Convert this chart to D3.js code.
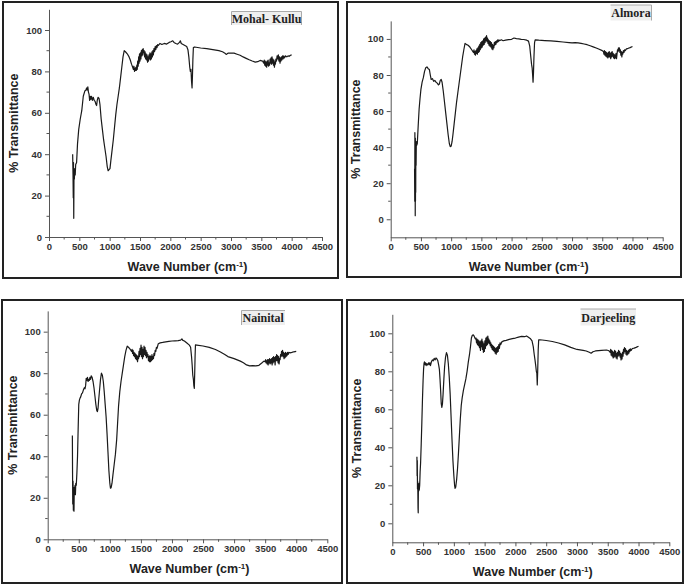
<!DOCTYPE html>
<html>
<head>
<meta charset="utf-8">
<script src="https://cdn.jsdelivr.net/npm/d3@7"></script>
<style>
  body { margin: 0; background: #fff; }
  svg { display: block; font-family: "Liberation Sans", Arial, sans-serif; }
</style>
</head>
<body>
<svg id="chart" width="685" height="585"></svg>
<script>
// sample names as printed in the label boxes
const sampleNames = ['Mohal- Kullu', 'Almora', 'Nainital', 'Darjeeling'];

// x ticks (wave number) and y ticks (% transmittance)
const xTicks = [0, 500, 1000, 1500, 2000, 2500, 3000, 3500, 4000, 4500];
const yTicks = [0, 20, 40, 60, 80, 100];

// spectra: [wave number, % transmittance]
const kullu = [
  [390,40],[396,30],[400,19],[404,36],[408,9],[412,30],[418,28],[425,33],[432,30],[440,35],[455,36],[470,45],[490,52],[515,57],[540,61],[565,68],[590,70.5],[610,71],[620,72],[630,71],[640,72.5],[650,70],[660,69],[670,66],[680,68],[690,66.5],[700,68],[715,66],[730,67.5],[745,66],[760,65.5],[775,64],[785,63.5],[795,66],[810,67.5],[825,67],[840,64],[860,57],[880,52],[900,47],[920,43],[940,39],[960,34],[975,32],[990,32.5],[1005,33],[1020,37],[1040,42],[1060,47],[1080,53],[1100,59],[1120,64],[1140,68],[1160,72],[1180,77],[1200,82],[1220,87],[1240,90],[1260,89.5],[1290,88.5],[1320,87],[1340,85.5],[1360,83.5],[1380,82],
  [1390,81],[1400,82.5],[1410,80],[1418,81.5],[1425,80.5],[1432,82],[1440,80.5],[1448,83],[1455,81],[1462,85],[1470,82.5],[1478,87],[1485,84],[1492,88.5],[1500,85],[1508,89],[1515,86],[1522,90],[1530,87.5],[1538,90.5],[1545,88],[1552,91],[1560,89],[1568,90],[1576,87],[1584,89.5],[1592,86],[1600,88.5],[1608,85.5],[1616,88],[1624,84.5],[1632,87],[1640,85],[1648,88],[1656,86],[1664,89],[1672,85.5],[1680,88.5],[1688,86],[1696,89.5],[1704,87],[1712,90],[1720,88],[1730,91],[1740,89.5],[1750,92],[1760,90.5],[1770,92.5],[1780,91.5],[1790,93],[1800,92.5],
  [1830,93.5],[1860,93],[1900,93.5],[1940,93.2],[1980,94],[2010,94.3],[2040,94.8],[2060,94],[2090,93.5],[2120,93.2],[2150,94],[2165,94.8],[2180,93.5],[2210,93],[2240,92.5],[2270,92],[2290,90.5],[2305,87],[2320,82],[2330,80],[2340,81],[2350,75],[2358,72],[2365,78],[2372,86],[2380,91.5],[2400,91.8],[2500,91.3],[2600,91],[2700,90.5],[2800,90],[2860,89.5],[2900,88.8],[2920,88.2],[2950,88.8],[3000,88.8],[3050,88.8],[3100,88.3],[3150,87.8],[3200,87],[3250,86.3],[3300,85.6],[3350,85],[3400,84.5],[3440,84.7],[3480,85.3],[3520,85],
  [3540,84],[3548,85.5],[3556,83],[3564,85],[3572,82.5],[3580,84.5],[3588,82],[3596,85],[3604,83],[3612,85.5],[3620,82.5],[3628,84],[3636,83],[3644,86],[3652,84],[3660,86.5],[3668,83.5],[3676,87],[3684,84],[3692,86],[3700,83],[3708,85.5],[3716,82],[3724,84.5],[3732,83.5],[3740,86],[3750,85],[3760,87.5],[3770,86],[3780,88],[3790,85],[3800,87],[3808,84],[3816,86.5],[3824,85],[3832,87],[3840,85.5],[3850,87.5],[3860,86],[3870,87.5],[3880,86.5],[3900,87.5],[3920,87],[3940,87.5],[3960,87.3],[3980,87.8],[4000,88]
];

const almora = [
  [395,28],[398,10],[400,48],[402,12],[404,40],[406,2],[408,45],[410,10],[412,38],[414,15],[416,42],[420,30],[424,43],[430,41],[440,42],[455,52],[470,61],[485,67],[500,72],[520,76],[540,78.5],[560,82],[580,84],[600,84.5],[620,83.5],[640,83],[655,80],[670,77.5],[690,78],[710,76.5],[730,77],[750,76],[770,75.5],[790,74.5],[805,75],[820,77],[835,77.5],[850,76],[870,71],[890,65],[910,59],[930,53],[950,47],[970,42],[985,40.3],[1000,40.5],[1015,43],[1030,47],[1050,53],[1070,59],[1090,65],[1110,70],[1130,75],[1150,80],[1170,85],[1190,90],[1210,94],[1230,97.5],[1250,97],[1280,96.5],[1310,95.5],[1340,94],[1360,93],
  [1370,92.5],[1378,94],[1386,91.5],[1394,93],[1402,91],[1410,93.5],[1418,92],[1426,94.5],[1434,91.5],[1442,95],[1450,92.5],[1458,96],[1466,93],[1474,97],[1482,94],[1490,98],[1498,95],[1506,98.5],[1514,95.5],[1522,99],[1530,96.5],[1538,100],[1546,97],[1554,100.5],[1562,98],[1570,101],[1578,99],[1586,101.8],[1594,98.5],[1602,100.5],[1610,97.5],[1618,99.5],[1626,96.5],[1634,99],[1642,96],[1650,98.5],[1658,95.5],[1666,98],[1674,94.5],[1682,97],[1690,94],[1698,96.5],[1706,95],[1714,98],[1722,96.5],[1730,98.5],[1740,97],[1750,99],[1760,98],[1770,99.5],[1780,98.5],[1790,99.5],[1800,99],
  [1830,99.5],[1860,99],[1900,99.3],[1950,99.6],[2000,99.8],[2040,100.5],[2080,100.2],[2120,100],[2160,99.8],[2200,99.7],[2250,99.3],[2280,98.8],[2300,96],[2315,91],[2330,86],[2340,84],[2348,80],[2355,76],[2362,81],[2370,90],[2380,98],[2390,99.5],[2450,99.3],[2550,99.1],[2650,98.9],[2750,98.6],[2850,98.3],[2950,98],[3000,97.8],[3050,97.9],[3100,97.8],[3150,97.5],[3200,97.2],[3250,96.8],[3300,96.2],[3350,95.6],[3400,95],[3450,94.3],[3500,93.5],
  [3520,93],[3528,91.5],[3536,93.5],[3544,91],[3552,93],[3560,90.5],[3568,92.5],[3576,90],[3584,92],[3592,89.5],[3600,92.5],[3608,90],[3616,93],[3624,90],[3632,92],[3640,89],[3648,92.5],[3656,90],[3664,93],[3672,90.5],[3680,92],[3688,89.5],[3696,91.5],[3704,89],[3712,91],[3720,89.5],[3728,92],[3736,89],[3744,91.5],[3752,94],[3760,93],[3768,95],[3776,93.5],[3784,95],[3792,92.5],[3800,94],[3808,91],[3816,93],[3824,90],[3832,92.5],[3840,91.5],[3850,93.5],[3860,92.5],[3870,94],[3880,93.5],[3900,94.5],[3930,94.8],[3960,95.2],[4000,95.8]
];

const nainital = [
  [397,50],[400,32],[403,17],[408,28],[413,14],[418,20],[423,13.5],[428,25],[434,22],[440,26],[446,21.5],[452,27],[460,26],[470,32],[480,40],[490,53],[500,65],[510,67],[520,68],[530,68.5],[545,70],[560,70.5],[575,72],[590,73],[600,72.5],[610,74],[620,77.5],[630,76.5],[640,78],[650,76],[660,77],[670,76.5],[680,78],[690,77],[700,78.7],[715,78],[730,76],[745,73],[760,69],[775,65],[790,62],[800,61.5],[810,63],[820,67],[835,72],[850,77],[865,80],[880,79],[895,76],[910,71],[925,65],[940,59],[955,51],[970,42],[985,33],[1000,27],[1010,24.6],[1020,24.8],[1035,27],[1050,31],[1070,36],[1090,41],[1110,48],[1125,56],[1140,64],[1160,71],[1180,76],[1200,80],[1220,84],[1240,88],[1260,91],[1280,93],[1300,92.5],[1320,91.8],[1340,91],
  [1350,90.5],[1358,91.5],[1366,89.5],[1374,91],[1382,88.5],[1390,90],[1398,88],[1406,89.5],[1414,87],[1422,89],[1430,86.5],[1438,88.5],[1446,85.5],[1454,88],[1462,87],[1470,90.5],[1478,88],[1486,92],[1494,89],[1502,93.5],[1510,88],[1518,92.5],[1526,87],[1534,91.5],[1542,88],[1550,93],[1558,89],[1566,92.5],[1574,88.5],[1582,91],[1590,87.5],[1598,90],[1606,88],[1614,89],[1622,86],[1630,88],[1638,85.5],[1646,88.5],[1654,85.5],[1662,88],[1670,86],[1678,89],[1686,86.5],[1694,88],[1702,87],[1710,89.5],[1720,88.5],[1730,91],[1740,90.5],[1750,92.5],[1760,92],
  [1780,94.2],[1810,94.6],[1850,94.8],[1900,95.1],[1950,95.3],[2000,95.5],[2050,95.6],[2100,95.7],[2140,95.9],[2160,96.5],[2175,95.8],[2200,95.5],[2240,94.5],[2280,93.5],[2300,92.5],[2315,88],[2325,84],[2335,79],[2345,77],[2352,74],[2360,72.7],[2366,80],[2372,88],[2378,93.6],[2400,93.5],[2500,93.1],[2600,92.4],[2700,91.4],[2780,90.2],[2850,89],[2900,88],[2950,87.5],[3000,87],[3050,86.4],[3100,85.8],[3150,85],[3200,84],[3250,83.5],[3300,83.6],[3350,83.5],[3400,83.8],[3450,85],[3480,85.8],
  [3500,85.5],[3508,86.5],[3516,85],[3524,86],[3532,84.5],[3540,86.5],[3548,84],[3556,86.5],[3564,85],[3572,87],[3580,84.5],[3588,86.5],[3596,85],[3604,87],[3612,84],[3620,87.5],[3628,85],[3636,88],[3644,85.5],[3652,87.5],[3660,84],[3668,88],[3676,86],[3684,89],[3692,86],[3700,88.5],[3708,85],[3716,88],[3724,84.5],[3732,87],[3740,86.5],[3748,89],[3756,88],[3764,90.5],[3772,88.5],[3780,91],[3788,88],[3796,90],[3804,87],[3812,89.5],[3820,87.5],[3828,90],[3836,88],[3844,89.5],[3852,88.5],[3860,90],[3870,89],[3880,90],[3900,89.8],[3930,90],[3960,90.3],[4000,90.5]
];

const darjeeling = [
  [400,35],[403,25],[406,33],[409,18],[412,22],[415,17],[418,8],[421,5.5],[424,20],[428,17],[433,21],[438,17.5],[445,20],[452,27],[460,32],[470,42],[480,53],[490,65],[500,75],[508,81],[515,84],[522,85],[530,83.5],[540,84.5],[550,83],[560,84],[575,83.3],[590,84.5],[600,83.5],[610,84.5],[620,83],[635,85],[650,86],[665,85.5],[680,86.8],[695,86],[710,87],[725,86.5],[740,85.5],[755,83],[765,81],[775,76],[785,70],[795,63],[805,61],[815,63],[825,68],[838,76],[850,82.5],[865,87.5],[880,89.8],[895,88.5],[910,84],[925,77],[940,68],[955,56],[970,44],[985,33],[1000,25],[1012,20],[1020,18.4],[1030,19],[1045,23],[1060,29],[1075,37],[1090,46],[1105,55],[1120,62],[1135,66],[1155,70],[1175,73],[1195,76],[1215,80],[1235,85],[1255,89],[1270,93],[1285,97.5],[1300,99],[1315,99.2],[1330,98.5],[1350,97],
  [1360,97.5],[1368,95],[1376,97],[1384,94],[1392,96.5],[1400,93.5],[1408,96],[1416,92.5],[1424,95.5],[1432,91],[1440,96],[1448,93],[1456,97],[1464,91.5],[1472,95.5],[1480,90],[1488,94.5],[1496,90.5],[1504,96],[1512,92],[1520,97.5],[1528,93.5],[1536,98],[1544,94],[1552,98.5],[1560,95],[1568,97],[1576,94.5],[1584,96],[1592,93.5],[1600,95],[1608,92.5],[1616,94],[1624,91.5],[1632,93.5],[1640,91],[1648,93],[1656,90.5],[1664,92.5],[1672,89.5],[1680,92],[1688,89],[1696,92.5],[1704,90],[1712,93],[1720,90.5],[1730,94],[1740,92],[1750,95],[1760,94],
  [1780,95.5],[1810,96],[1850,96.3],[1900,96.8],[1950,97.2],[2000,97.5],[2050,98],[2100,98.4],[2150,98.2],[2180,98.6],[2200,98.2],[2240,97.3],[2270,96],[2290,93],[2305,89],[2318,86],[2330,83],[2340,80],[2348,79],[2355,72.8],[2362,80],[2370,91],[2378,96.5],[2400,96.6],[2500,96.2],[2600,95.7],[2700,94.9],[2800,93.9],[2900,92.6],[3000,91.5],[3100,91],[3150,90.7],[3200,90],[3230,89.5],[3260,90.3],[3300,90.7],[3400,91],[3480,91.2],[3520,90.8],
  [3540,90],[3548,91.5],[3556,88.5],[3564,91],[3572,88],[3580,90.5],[3588,87],[3596,90],[3604,87.5],[3612,91],[3620,88],[3628,90.5],[3636,87],[3644,89.5],[3652,86.5],[3660,90],[3668,88],[3676,91],[3684,88.5],[3692,90.5],[3700,87.5],[3708,89.5],[3716,86],[3724,89],[3732,86.5],[3740,90],[3748,88],[3756,91.5],[3764,89.5],[3772,92.5],[3780,90.5],[3788,92],[3796,89],[3804,91],[3812,88.5],[3820,90.5],[3828,89],[3836,91],[3844,89.5],[3852,91.5],[3860,90.5],[3870,91.8],[3880,91],[3900,92],[3930,92.2],[3960,92.6],[4000,93.2]
];

const spectra = [kullu, almora, nainital, darjeeling];
const yMins = [0, -10, 0, -10];

// panel layout in page pixels
const panels = [
  { frame: [3, 2, 335, 276], x: [49, 322], y: [237, 9.3], label: [231.5, 11.5, 70, 13.5], edges: 'all' },
  { frame: [347, 2, 334, 275], x: [390.7, 662.7], y: [237.3, 20.9], label: [610.5, 5, 41, 15.5], edges: 'tr' },
  { frame: [2, 300, 340, 283], x: [47.7, 327.3], y: [539.3, 310.9], label: [241.5, 310.5, 43.5, 14.5], edges: 'tl' },
  { frame: [347, 300, 336, 283], x: [392.3, 669.3], y: [542.3, 314.3], label: [580.5, 309, 55.5, 16.5], edges: 't' }
];

const svg = d3.select('#chart');
const fmt = d3.format('d');

panels.forEach((p, i) => {
  const g = svg.append('g');
  const [fx, fy, fw, fh] = p.frame;

  g.append('rect')
    .attr('x', fx).attr('y', fy)
    .attr('width', fw).attr('height', fh)
    .attr('fill', 'none')
    .attr('stroke', '#222')
    .attr('stroke-width', 2);

  const x = d3.scaleLinear().domain([0, 4500]).range(p.x);
  const y = d3.scaleLinear().domain([yMins[i], 110]).range(p.y);

  // x axis: major every 500, minor every 250
  const xMinor = d3.range(250, 4500, 500);
  const xAxis = g.append('g').attr('transform', `translate(0,${p.y[0]})`);
  xAxis.call(d3.axisBottom(x).tickValues(xTicks).tickFormat(fmt).tickSize(4).tickPadding(2).tickSizeOuter(0));
  xAxis.selectAll('.minor').data(xMinor).enter().append('line')
    .attr('class', 'minor')
    .attr('x1', d => x(d)).attr('x2', d => x(d))
    .attr('y1', 0).attr('y2', 2.5)
    .attr('stroke', '#555');

  // y axis: major every 20, minor every 10
  const yMinor = d3.range(10, 110, 20);
  const yAxis = g.append('g').attr('transform', `translate(${p.x[0]},0)`);
  yAxis.call(d3.axisLeft(y).tickValues(yTicks).tickFormat(fmt).tickSize(4).tickPadding(3).tickSizeOuter(0));
  yAxis.selectAll('.minor').data(yMinor).enter().append('line')
    .attr('class', 'minor')
    .attr('x1', 0).attr('x2', -2.5)
    .attr('y1', d => y(d)).attr('y2', d => y(d))
    .attr('stroke', '#555');

  [xAxis, yAxis].forEach(a => {
    a.select('.domain').attr('stroke', '#555');
    a.selectAll('.tick line').attr('stroke', '#555');
    a.selectAll('.tick text')
      .attr('fill', '#333')
      .style('font-size', '9.5px')
      .style('font-weight', 'bold');
  });

  // spectrum
  const line = d3.line().x(d => x(d[0])).y(d => y(d[1]));
  g.append('path')
    .datum(spectra[i])
    .attr('d', line)
    .attr('fill', 'none')
    .attr('stroke', '#1a1a1a')
    .attr('stroke-width', 1.2)
    .attr('stroke-linejoin', 'round');

  // axis titles
  const xt = g.append('text')
    .attr('x', (p.x[0] + p.x[1]) / 2 + 2)
    .attr('y', p.y[0] + 34)
    .attr('text-anchor', 'middle')
    .attr('fill', '#222')
    .style('font-size', '12.5px')
    .style('font-weight', 'bold');
  xt.append('tspan').text('Wave Number (cm');
  xt.append('tspan').attr('dy', -4.5).style('font-size', '8px').text('-1');
  xt.append('tspan').attr('dy', 4.5).text(')');

  g.append('text')
    .attr('transform', `translate(${p.x[0] - 31},${(p.y[0] + p.y[1]) / 2}) rotate(-90)`)
    .attr('text-anchor', 'middle')
    .attr('fill', '#222')
    .style('font-size', '12.5px')
    .style('font-weight', 'bold')
    .text('% Transmittance');

  // sample label box
  const [lx, ly, lw, lh] = p.label;
  g.append('rect')
    .attr('x', lx).attr('y', ly).attr('width', lw).attr('height', lh)
    .attr('fill', '#efefef');
  const edge = (x1, y1, x2, y2) => g.append('line')
    .attr('x1', x1).attr('y1', y1).attr('x2', x2).attr('y2', y2)
    .attr('stroke', '#aaa').attr('stroke-width', 1);
  if (p.edges.includes('t') || p.edges === 'all') edge(lx, ly, lx + lw, ly);
  if (p.edges.includes('r') || p.edges === 'all') edge(lx + lw, ly, lx + lw, ly + lh);
  if (p.edges.includes('l') || p.edges === 'all') edge(lx, ly, lx, ly + lh);
  g.append('text')
    .attr('x', lx + lw / 2)
    .attr('y', ly + lh / 2 + 4.3)
    .attr('text-anchor', 'middle')
    .attr('fill', '#222')
    .style('font-family', '"Liberation Serif", "Times New Roman", serif')
    .style('font-size', '12px')
    .style('font-weight', 'bold')
    .text(sampleNames[i]);
});
</script>
</body>
</html>
